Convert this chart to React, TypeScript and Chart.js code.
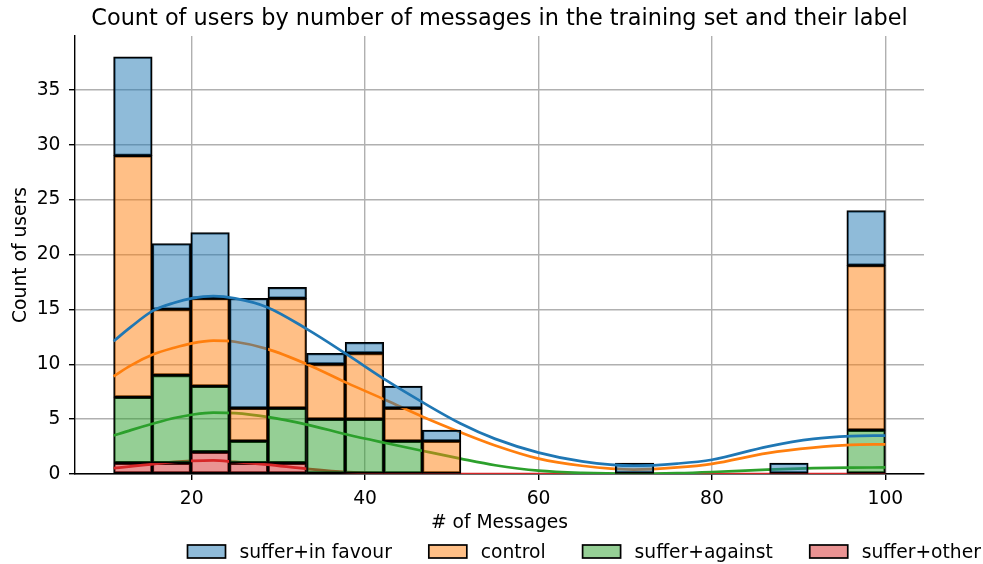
import React, { useEffect, useRef } from "react";
import { Chart, registerables } from "chart.js";

Chart.register(...registerables);

// ---------- data ----------
const titleText = "Count of users by number of messages in the training set and their label";
const xTitle = "# of Messages";
const yTitle = "Count of users";

// histogram bins (11 .. 100, 20 bins of width 4.45), centres
const binCenters = [
  13.225, 17.675, 22.125, 26.575, 31.025, 35.475, 39.925, 44.375, 48.825, 53.275,
  57.725, 62.175, 66.625, 71.075, 75.525, 79.975, 84.425, 88.875, 93.325, 97.775,
];

// counts per label (stacked bottom -> top: other, against, control, in favour)
const otherCounts = [1, 1, 2, 1, 1, 0, 0, 0, 0, 0, 0, 0, 0, 0, 0, 0, 0, 0, 0, 0];
const againstCounts = [6, 8, 6, 2, 5, 5, 5, 3, 0, 0, 0, 0, 0, 0, 0, 0, 0, 0, 0, 4];
const controlCounts = [22, 6, 8, 3, 10, 5, 6, 3, 3, 0, 0, 0, 0, 0, 0, 0, 0, 0, 0, 15];
const favourCounts = [9, 6, 6, 10, 1, 1, 1, 2, 1, 0, 0, 0, 0, 1, 0, 0, 0, 1, 0, 5];

// KDE curves (stacked)
const kdeX = [11, 13, 15.6, 18, 20, 22.5, 25, 28.7, 33.3, 37.9, 42.5, 46.7, 51, 55, 60, 65, 71, 76, 80, 86.4, 91.7, 96, 100];
const kdeFavour = [12.1, 13.4, 14.9, 15.6, 16.0, 16.2, 16.0, 15.2, 13.2, 10.9, 8.5, 6.5, 4.6, 3.2, 1.95, 1.15, 0.75, 0.95, 1.3, 2.5, 3.2, 3.45, 3.5];
const kdeControl = [8.9, 9.9, 10.9, 11.5, 11.9, 12.15, 12.05, 11.4, 10.0, 8.3, 6.7, 5.2, 3.8, 2.6, 1.4, 0.75, 0.4, 0.6, 0.93, 1.9, 2.4, 2.65, 2.7];
const kdeAgainst = [3.5, 4.0, 4.6, 5.1, 5.4, 5.6, 5.55, 5.2, 4.5, 3.6, 2.8, 2.1, 1.4, 0.8, 0.3, 0.1, 0.03, 0.08, 0.18, 0.4, 0.53, 0.58, 0.6];
const kdeOther = [0.53, 0.7, 0.9, 1.1, 1.2, 1.25, 1.1, 0.85, 0.47, 0.17, 0.05, 0.01, 0, 0, 0, 0, 0, 0, 0, 0, 0, 0, 0];

const xTicks = [20, 40, 60, 80, 100];
const yTicks = [0, 5, 10, 15, 20, 25, 30, 35];

const legendLabels = ["suffer+in favour", "control", "suffer+against", "suffer+other"];
const lineColors = ["#1f77b4", "#ff7f0e", "#2ca02c", "#d62728"];
const fillColors = [
  "rgba(31,119,180,0.5)",
  "rgba(255,127,14,0.5)",
  "rgba(44,160,44,0.5)",
  "rgba(214,39,40,0.5)",
];

const FONT = '"DejaVu Sans", "Liberation Sans", sans-serif';
const FS = 18.7;

function floating(counts: number[], bottoms: number[]) {
  return binCenters.map((x, i) =>
    counts[i] > 0 ? { x, y: [bottoms[i], bottoms[i] + counts[i]] } : { x, y: null }
  );
}

function addArr(a: number[], b: number[]) {
  return a.map((v, i) => v + b[i]);
}

const titlePlugin = {
  id: "axesTitle",
  afterDraw(chart: any) {
    const ctx = chart.ctx;
    const ca = chart.chartArea;
    ctx.save();
    ctx.font = `22.4px ${FONT}`;
    ctx.fillStyle = "#000";
    ctx.textAlign = "center";
    ctx.textBaseline = "middle";
    ctx.fillText(titleText, (ca.left + ca.right) / 2, 18.8);
    ctx.restore();
  },
};

const legendPlugin = {
  id: "bottomLegend",
  afterDraw(chart: any) {
    const ctx = chart.ctx;
    ctx.save();
    ctx.font = `${FS}px ${FONT}`;
    ctx.textBaseline = "middle";
    ctx.textAlign = "left";
    const boxW = 38, boxH = 13, gap = 14, spacing = 37;
    let x = 187.5;
    const boxTop = 545;
    const textY = 552.7;
    legendLabels.forEach((t, i) => {
      ctx.fillStyle = fillColors[i];
      ctx.fillRect(x, boxTop, boxW, boxH);
      ctx.strokeStyle = "#000";
      ctx.lineWidth = 1.7;
      ctx.strokeRect(x, boxTop, boxW, boxH);
      ctx.fillStyle = "#000";
      ctx.fillText(t, x + boxW + gap, textY);
      x += boxW + gap + ctx.measureText(t).width + spacing;
    });
    ctx.restore();
  },
};

export default function App() {
  const ref = useRef<HTMLCanvasElement | null>(null);

  useEffect(() => {
    if (!ref.current) return;
    Chart.defaults.color = "#000";
    Chart.defaults.font.family = FONT;

    const b0 = binCenters.map(() => 0);
    const b1 = addArr(b0, otherCounts);
    const b2 = addArr(b1, againstCounts);
    const b3 = addArr(b2, controlCounts);

    const barDs = (label: string, counts: number[], bottoms: number[], ci: number, order: number) => ({
      type: "bar" as const,
      label,
      data: floating(counts, bottoms),
      backgroundColor: fillColors[ci],
      borderColor: "#000",
      borderWidth: 1.6,
      borderSkipped: false,
      grouped: false,
      barPercentage: 1,
      categoryPercentage: 1,
      order,
    });
    const lineDs = (label: string, ys: number[], ci: number, order: number) => ({
      type: "line" as const,
      label,
      data: kdeX.map((x, i) => ({ x, y: ys[i] })),
      borderColor: lineColors[ci],
      backgroundColor: lineColors[ci],
      borderWidth: 2.7,
      pointRadius: 0,
      fill: false,
      cubicInterpolationMode: "monotone" as const,
      order,
    });

    const chart = new Chart(ref.current, {
      type: "bar",
      data: {
        datasets: [
          lineDs("kde " + legendLabels[0], kdeFavour, 0, 0),
          barDs(legendLabels[0], favourCounts, b3, 0, 1),
          lineDs("kde " + legendLabels[1], kdeControl, 1, 2),
          barDs(legendLabels[1], controlCounts, b2, 1, 3),
          lineDs("kde " + legendLabels[2], kdeAgainst, 2, 4),
          barDs(legendLabels[2], againstCounts, b1, 2, 5),
          lineDs("kde " + legendLabels[3], kdeOther, 3, 6),
          barDs(legendLabels[3], otherCounts, b0, 3, 7),
        ] as any,
      },
      options: {
        animation: false,
        responsive: false,
        events: [],
        layout: { padding: { left: 0, right: 59, top: 36, bottom: 0 } },
        plugins: {
          legend: { display: false },
          tooltip: { enabled: false },
          title: { display: false },
        },
        scales: {
          x: {
            type: "linear",
            min: 6.55,
            max: 104.45,
            offset: false,
            afterBuildTicks: (s: any) => {
              s.ticks = xTicks.map((v) => ({ value: v }));
            },
            afterFit: (s: any) => {
              s.height = 90;
            },
            grid: {
              offset: false,
              color: "#b0b0b0",
              lineWidth: 1.4,
              drawTicks: true,
              tickLength: 6,
              tickColor: "#000",
              tickWidth: 1.4,
            },
            border: { display: true, color: "#000", width: 1.4 },
            ticks: { font: { size: FS, family: FONT }, color: "#000", padding: 8, maxRotation: 0 },
            title: {
              display: true,
              text: xTitle,
              font: { size: FS, family: FONT },
              color: "#000",
              padding: { top: 0, bottom: 29.5 },
            },
          },
          y: {
            type: "linear",
            min: 0,
            max: 39.9,
            afterBuildTicks: (s: any) => {
              s.ticks = yTicks.map((v) => ({ value: v }));
            },
            afterFit: (s: any) => {
              s.width = 75;
            },
            grid: {
              color: "#b0b0b0",
              lineWidth: 1.4,
              drawTicks: true,
              tickLength: 6,
              tickColor: "#000",
              tickWidth: 1.4,
            },
            border: { display: true, color: "#000", width: 1.4 },
            ticks: { font: { size: FS, family: FONT }, color: "#000", padding: 8.5 },
            title: {
              display: true,
              text: yTitle,
              font: { size: FS, family: FONT },
              color: "#000",
              padding: { top: 9.9, bottom: 0 },
            },
          },
        },
      } as any,
      plugins: [titlePlugin, legendPlugin],
    });
    return () => chart.destroy();
  }, []);

  return (
    <div style={{ position: "fixed", left: 0, top: 0, width: 983, height: 564, background: "#fff", overflow: "hidden" }}>
      <canvas ref={ref} width={983} height={564} style={{ display: "block" }} />
    </div>
  );
}
